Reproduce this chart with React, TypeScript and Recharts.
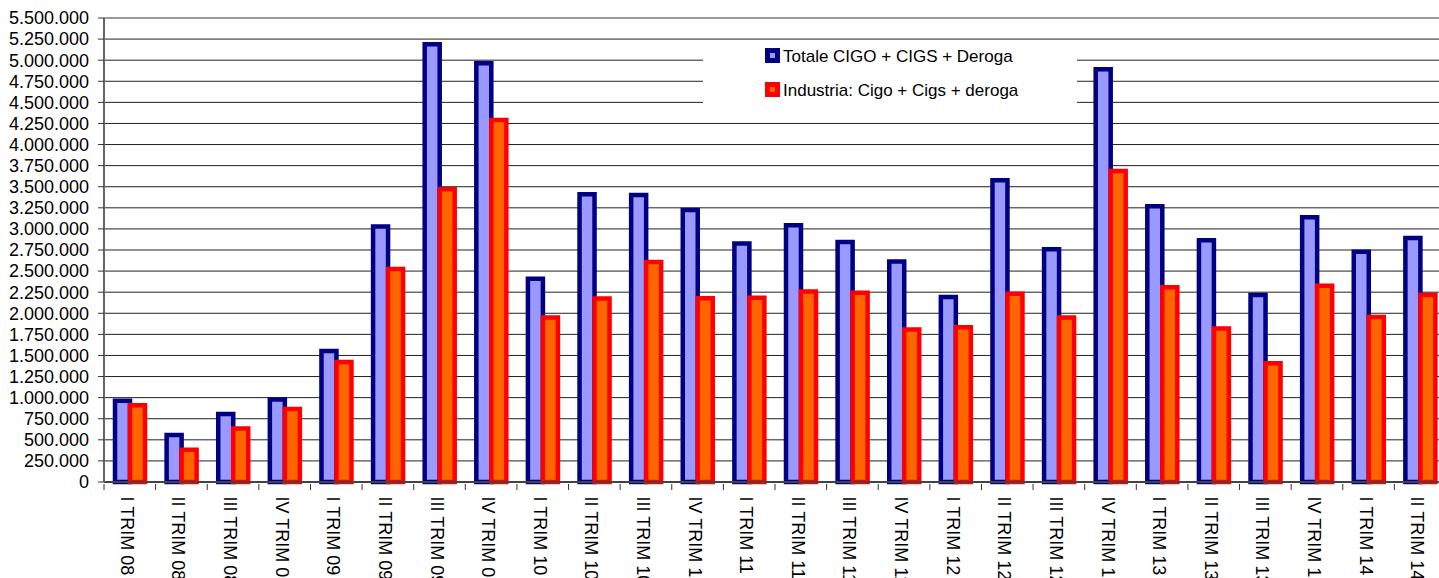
import { BarChart, Bar, XAxis, YAxis, CartesianGrid, Legend, ReferenceLine } from 'recharts';

const CATEGORIES = [
  'I TRIM 08', 'II TRIM 08', 'III TRIM 08', 'IV TRIM 08',
  'I TRIM 09', 'II TRIM 09', 'III TRIM 09', 'IV TRIM 09',
  'I TRIM 10', 'II TRIM 10', 'III TRIM 10', 'IV TRIM 10',
  'I TRIM 11', 'II TRIM 11', 'III TRIM 11', 'IV TRIM 11',
  'I TRIM 12', 'II TRIM 12', 'III TRIM 12', 'IV TRIM 12',
  'I TRIM 13', 'II TRIM 13', 'III TRIM 13', 'IV TRIM 13',
  'I TRIM 14', 'II TRIM 14',
];

const TOTALE = [
  962000, 556000, 805000, 977000,
  1554000, 3028000, 5188000, 4963000,
  2408000, 3411000, 3403000, 3225000,
  2827000, 3044000, 2846000, 2614000,
  2194000, 3577000, 2760000, 4892000,
  3269000, 2866000, 2218000, 3139000,
  2728000, 2893000,
];

const INDUSTRIA = [
  911000, 382000, 634000, 864000,
  1421000, 2526000, 3470000, 4291000,
  1950000, 2175000, 2609000, 2179000,
  2183000, 2258000, 2242000, 1808000,
  1835000, 2230000, 1950000, 3687000,
  2309000, 1819000, 1409000, 2325000,
  1957000, 2218000,
];

const Y_TICKS = [
  0, 250000, 500000, 750000, 1000000, 1250000, 1500000, 1750000,
  2000000, 2250000, 2500000, 2750000, 3000000, 3250000, 3500000,
  3750000, 4000000, 4250000, 4500000, 4750000, 5000000, 5250000, 5500000,
];

const SERIES_ORDER = ['totale', 'industria'];

const BAR_STYLES: Record<string, { fill: string; stroke: string }> = {
  totale: { fill: '#9999FF', stroke: '#000080' },
  industria: { fill: '#FF6600', stroke: '#FF0000' },
};

const FONT = '"Liberation Sans", Arial, sans-serif';

const CHART_W = 1446;
const CHART_H = 640;
const PLOT_LEFT = 104;
const HALF_BAND = (CHART_W - PLOT_LEFT) / CATEGORIES.length / 2;

const chartData = CATEGORIES.map((label, i) => ({
  label,
  totale: TOTALE[i],
  industria: INDUSTRIA[i],
}));

function formatIt(v: number): string {
  return String(v).replace(/\B(?=(\d{3})+(?!\d))/g, '.');
}

function CategoryTick(props: any) {
  const { x, y, payload } = props;
  const half = payload && typeof payload.offset === 'number' ? payload.offset : HALF_BAND;
  return (
    <g>
      <line x1={x - half} x2={x - half} y1={y} y2={y + 6} stroke="#333" />
      <text
        transform={`translate(${x},${y}) rotate(90)`}
        x={12.5}
        y={9}
        fontSize={18}
        fontFamily={FONT}
        fill="#000"
      >
        {payload.value}
      </text>
    </g>
  );
}

function LegendBox({ payload }: any) {
  // keep the series order, recharts sorts legend items by name otherwise
  const items = [...(payload || [])].sort(
    (a: any, b: any) => SERIES_ORDER.indexOf(a.dataKey) - SERIES_ORDER.indexOf(b.dataKey),
  );
  return (
    <div style={{ width: 374, height: 63, background: '#fff', position: 'relative', fontFamily: FONT }}>
      {items.map((entry: any, i: number) => {
        const st = BAR_STYLES[entry.dataKey] || { fill: entry.color, stroke: entry.color };
        return (
          <div
            key={entry.value}
            style={{ position: 'absolute', left: 62, top: 7 + i * 33.5, display: 'flex', alignItems: 'center', height: 15 }}
          >
            <div style={{ width: 15, height: 15, background: st.stroke, position: 'relative' }}>
              <div style={{ position: 'absolute', left: 5, top: 5, width: 5, height: 5, background: st.fill }} />
            </div>
            <span style={{ marginLeft: 3, fontSize: 17, color: '#000', whiteSpace: 'nowrap', lineHeight: '15px', position: 'relative', top: 1 }}>
              {entry.value}
            </span>
          </div>
        );
      })}
    </div>
  );
}

export default function App() {
  return (
    <div style={{ position: 'absolute', left: 0, top: 0, width: 1439, height: 578, overflow: 'hidden', background: '#fff' }}>
      <BarChart
        width={CHART_W}
        height={CHART_H}
        data={chartData}
        margin={{ top: 18, right: 0, bottom: 0, left: 0 }}
        barGap={0}
      >
        <CartesianGrid vertical={false} stroke="#222" />
        <ReferenceLine y={5500000} stroke="#999" strokeWidth={2} />
        <XAxis
          dataKey="label"
          interval={0}
          height={158}
          tickSize={0}
          tickLine={false}
          axisLine={{ stroke: '#444', strokeWidth: 2 }}
          tick={<CategoryTick />}
        />
        <YAxis
          type="number"
          domain={[0, 5500000]}
          ticks={Y_TICKS}
          interval={0}
          width={PLOT_LEFT}
          tickFormatter={formatIt}
          tick={{ fontSize: 18, fill: '#000', fontFamily: FONT }}
          tickLine={{ stroke: '#333' }}
          tickSize={6}
          tickMargin={9}
          axisLine={{ stroke: '#666', strokeWidth: 2 }}
        />
        <Legend
          layout="vertical"
          align="center"
          verticalAlign="middle"
          content={<LegendBox />}
          wrapperStyle={{ left: 703, top: 41, width: 374, height: 63 }}
        />
        <Bar
          dataKey="totale"
          name="Totale CIGO + CIGS + Deroga"
          fill={BAR_STYLES.totale.fill}
          stroke={BAR_STYLES.totale.stroke}
          strokeWidth={4.5}
          barSize={15}
          isAnimationActive={false}
        />
        <Bar
          dataKey="industria"
          name="Industria: Cigo + Cigs + deroga"
          fill={BAR_STYLES.industria.fill}
          stroke={BAR_STYLES.industria.stroke}
          strokeWidth={4.5}
          barSize={15}
          isAnimationActive={false}
        />
      </BarChart>
    </div>
  );
}
